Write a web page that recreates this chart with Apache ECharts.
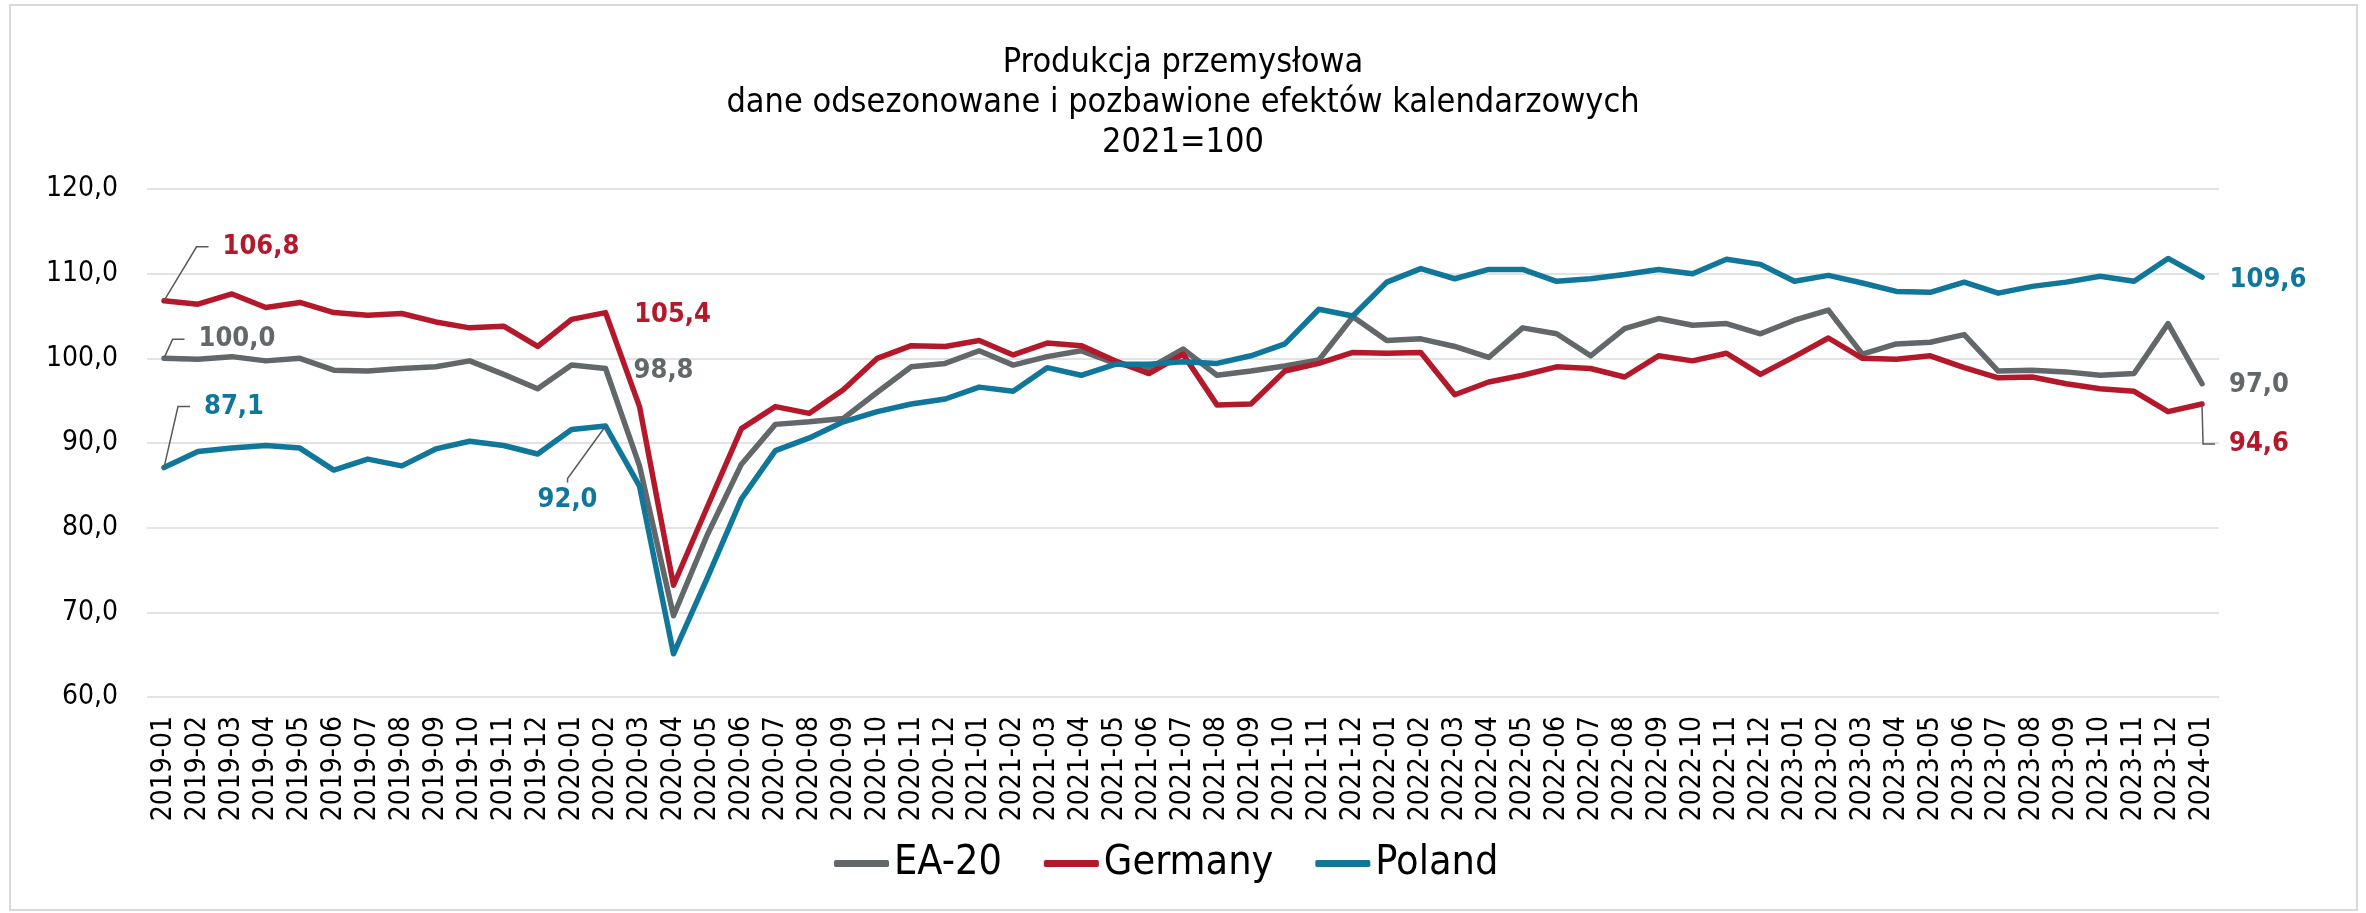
<!DOCTYPE html>
<html><head><meta charset="utf-8">
<script src="https://cdn.jsdelivr.net/npm/echarts@6/dist/echarts.min.js"></script>
<style>html,body{margin:0;padding:0;background:#fff}#c{width:2366px;height:913px}</style>
</head><body><div id="c"></div>
<script>
const categories = [
'2019-01','2019-02','2019-03','2019-04','2019-05','2019-06','2019-07','2019-08','2019-09','2019-10','2019-11','2019-12',
'2020-01','2020-02','2020-03','2020-04','2020-05','2020-06','2020-07','2020-08','2020-09','2020-10','2020-11','2020-12',
'2021-01','2021-02','2021-03','2021-04','2021-05','2021-06','2021-07','2021-08','2021-09','2021-10','2021-11','2021-12',
'2022-01','2022-02','2022-03','2022-04','2022-05','2022-06','2022-07','2022-08','2022-09','2022-10','2022-11','2022-12',
'2023-01','2023-02','2023-03','2023-04','2023-05','2023-06','2023-07','2023-08','2023-09','2023-10','2023-11','2023-12',
'2024-01'];
const ea20 = [
100.0,99.9,100.2,99.7,100.0,98.6,98.5,98.8,99.0,99.7,98.1,96.4,
99.2,98.8,87.3,69.6,79.2,87.5,92.2,92.5,92.9,96.0,99.0,99.4,
100.9,99.2,100.2,100.9,99.4,98.8,101.1,98.0,98.5,99.1,99.8,104.9,
102.1,102.3,101.4,100.1,103.6,102.9,100.3,103.5,104.7,103.9,104.1,102.9,
104.5,105.7,100.5,101.7,101.9,102.8,98.5,98.6,98.4,98.0,98.2,104.1,
97.0];
const germany = [
106.8,106.4,107.6,106.0,106.6,105.4,105.1,105.3,104.3,103.6,103.8,101.4,
104.6,105.4,94.3,73.2,82.5,91.7,94.3,93.5,96.3,100.0,101.5,101.4,
102.1,100.4,101.8,101.5,99.7,98.2,100.5,94.5,94.6,98.5,99.4,100.7,
100.6,100.7,95.7,97.2,98.0,99.0,98.8,97.8,100.3,99.7,100.6,98.1,
100.2,102.4,100.0,99.9,100.3,98.9,97.7,97.8,97.0,96.4,96.1,93.7,
94.6];
const poland = [
87.1,89.0,89.4,89.7,89.4,86.8,88.1,87.3,89.3,90.2,89.7,88.7,
91.6,92.0,84.9,65.1,74.1,83.4,89.1,90.6,92.5,93.7,94.6,95.2,
96.6,96.1,98.9,98.0,99.3,99.3,99.6,99.4,100.3,101.7,105.8,105.0,
109.0,110.6,109.4,110.5,110.5,109.1,109.4,109.9,110.5,110.0,111.7,111.1,
109.1,109.8,108.9,107.9,107.8,109.0,107.7,108.5,109.0,109.7,109.1,111.8,
109.6];
const seriesNames = ['EA-20','Germany','Poland'];
const titleText = 'Produkcja przemysłowa\ndane odsezonowane i pozbawione efektów kalendarzowych\n2021=100';

const FONT = '"DejaVu Sans Condensed", "DejaVu Sans", sans-serif';
const COLORS = {'EA-20':'#62676A','Germany':'#B3192B','Poland':'#10779A'};
// label placement (offsets relative to the point), styling only
const labelSpec = {
  'EA-20':  [{i:0,dx:73,dy:-19,line:true,len2:12},{i:13,dx:58,dy:2},{i:60,dx:57,dy:1}],
  'Germany':[{i:0,dx:97,dy:-54,line:true,len2:12},{i:13,dx:67,dy:2},{i:60,dx:57,dy:40,line:true,len2:12}],
  'Poland': [{i:0,dx:70,dy:-61,line:true,len2:12},{i:13,dx:-38,dy:74,line:true,len2:4},{i:60,dx:66,dy:3}]
};
const fmt = v => v.toFixed(1).replace('.', ',');

function buildData(name, values){
  const spec = labelSpec[name];
  return values.map((v, idx) => {
    const s = spec.find(o => o.i === idx);
    if (!s) return v;
    return {
      value: v,
      label: {show:true, position:'inside', padding:[4,14], backgroundColor:'rgba(255,255,255,0)',
        formatter: p => fmt(p.value), color: COLORS[name], fontFamily: FONT,
        fontSize: 27, fontWeight:'bold'},
      labelLine: {show: !!s.line, length2: s.len2 || 0, smooth:false,
        lineStyle:{color:'#595959', width:1.5}}
    };
  });
}
const valuesByName = {'EA-20':ea20,'Germany':germany,'Poland':poland};

const chart = echarts.init(document.getElementById('c'), null, {renderer:'canvas'});
chart.setOption({
  animation:false,
  backgroundColor:'#fff',
  title:{text:titleText, left:'center', top:38,
    textStyle:{fontFamily:FONT, fontSize:34, fontWeight:'normal', color:'#000', lineHeight:40}},
  graphic:[{type:'rect', shape:{x:10,y:5,width:2347,height:905}, style:{fill:'none', stroke:'#D9D9D9', lineWidth:2}, silent:true}],
  legend:{data:seriesNames, left:829, top:838, itemWidth:55, itemHeight:7, itemGap:42, icon:'roundRect',
    textStyle:{fontFamily:FONT, fontSize:41, color:'#000'}},
  grid:{left:147, right:147, top:189, bottom:216, containLabel:false},
  xAxis:{type:'category', data:categories, boundaryGap:true,
    axisLine:{show:false}, axisTick:{show:false},
    axisLabel:{interval:0, rotate:90, margin:19, fontFamily:FONT, fontSize:28, color:'#000'}},
  yAxis:{type:'value', min:60, max:120, interval:10,
    axisLine:{show:false}, axisTick:{show:false},
    splitLine:{show:true, lineStyle:{color:'#E3E3E3', width:2}},
    axisLabel:{margin:29, fontFamily:FONT, fontSize:28, color:'#000', formatter: v => fmt(v)}},
  series: seriesNames.map(n => ({
    name:n, type:'line', data: buildData(n, valuesByName[n]),
    color: COLORS[n], symbol:'circle', symbolSize:1, showSymbol:true, showAllSymbol:true,
    lineStyle:{width:5.5, color:COLORS[n], cap:'round', join:'round'},
    itemStyle:{color:COLORS[n]},
    emphasis:{disabled:true},
    label:{show:false},
    labelLayout: (params) => {
      const s = labelSpec[n].find(o => o.i === params.dataIndex);
      return s ? {dx: s.dx, dy: s.dy} : {};
    }
  }))
});
</script></body></html>
